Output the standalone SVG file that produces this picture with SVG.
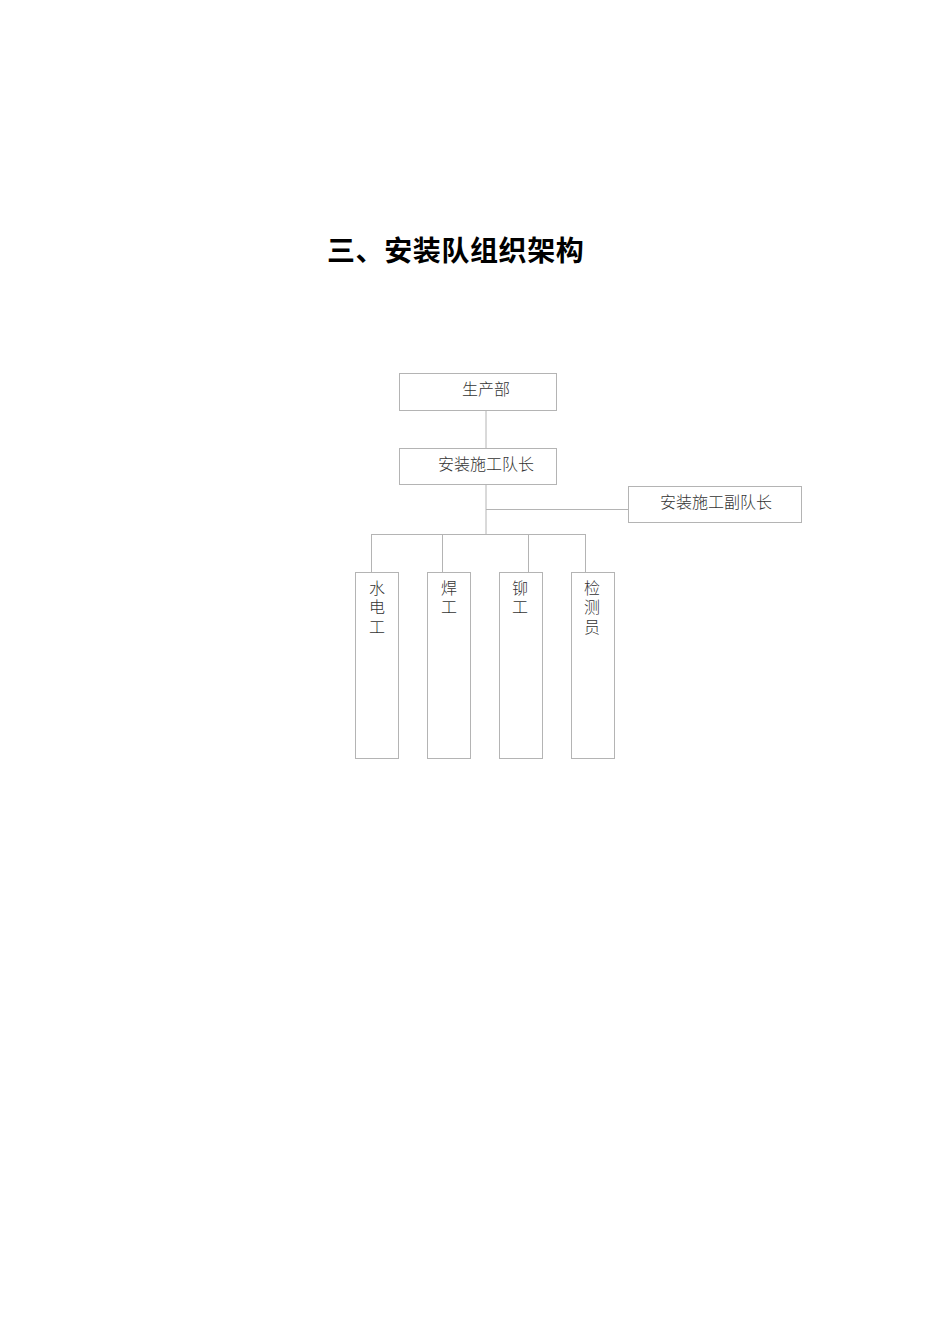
<svg xmlns="http://www.w3.org/2000/svg" width="950" height="1344" viewBox="0 0 950 1344">
<style>
.box{fill:#fff;stroke:#b4b4b4;stroke-width:1}
.ln{stroke:#b4b4b4;stroke-width:1;fill:none}
.t{font-family:"Liberation Serif","Noto Sans CJK SC",serif;font-size:16px;fill:#333;font-weight:300}
.title{font-family:"Liberation Sans","Noto Sans CJK SC",sans-serif;font-size:28px;font-weight:bold;fill:#000;letter-spacing:0.6px}
</style>
<rect width="950" height="1344" fill="#fff"/>
<text class="title" x="327" y="261">三、安装队组织架构</text>
<g id="connectors">
<line class="ln" x1="486" y1="410" x2="486" y2="448"/>
<line class="ln" x1="486" y1="485" x2="486" y2="534"/>
<line class="ln" x1="486" y1="509.5" x2="628" y2="509.5"/>
<line class="ln" x1="371" y1="534.5" x2="585" y2="534.5"/>
<line class="ln" x1="371.5" y1="534" x2="371.5" y2="572"/>
<line class="ln" x1="442.5" y1="534" x2="442.5" y2="572"/>
<line class="ln" x1="528.5" y1="534" x2="528.5" y2="572"/>
<line class="ln" x1="585.5" y1="534" x2="585.5" y2="572"/>
</g>
<g id="n1"><rect class="box" x="399.5" y="373.5" width="157" height="37"/><text class="t" x="486" y="395" text-anchor="middle">生产部</text></g>
<g id="n2"><rect class="box" x="399.5" y="448.5" width="157" height="36"/><text class="t" x="486" y="470" text-anchor="middle">安装施工队长</text></g>
<g id="n3"><rect class="box" x="628.5" y="486.5" width="173" height="36"/><text class="t" x="716" y="508" text-anchor="middle">安装施工副队长</text></g>
<g id="n4"><rect class="box" x="355.5" y="572.5" width="43" height="186"/><text class="t" x="377" y="594" text-anchor="middle">水</text><text class="t" x="377" y="613" text-anchor="middle">电</text><text class="t" x="377" y="633" text-anchor="middle">工</text></g>
<g id="n5"><rect class="box" x="427.5" y="572.5" width="43" height="186"/><text class="t" x="449" y="594" text-anchor="middle">焊</text><text class="t" x="449" y="613" text-anchor="middle">工</text></g>
<g id="n6"><rect class="box" x="499.5" y="572.5" width="43" height="186"/><text class="t" x="520" y="594" text-anchor="middle">铆</text><text class="t" x="520" y="613" text-anchor="middle">工</text></g>
<g id="n7"><rect class="box" x="571.5" y="572.5" width="43" height="186"/><text class="t" x="592" y="594" text-anchor="middle">检</text><text class="t" x="592" y="613" text-anchor="middle">测</text><text class="t" x="592" y="633" text-anchor="middle">员</text></g>
</svg>
